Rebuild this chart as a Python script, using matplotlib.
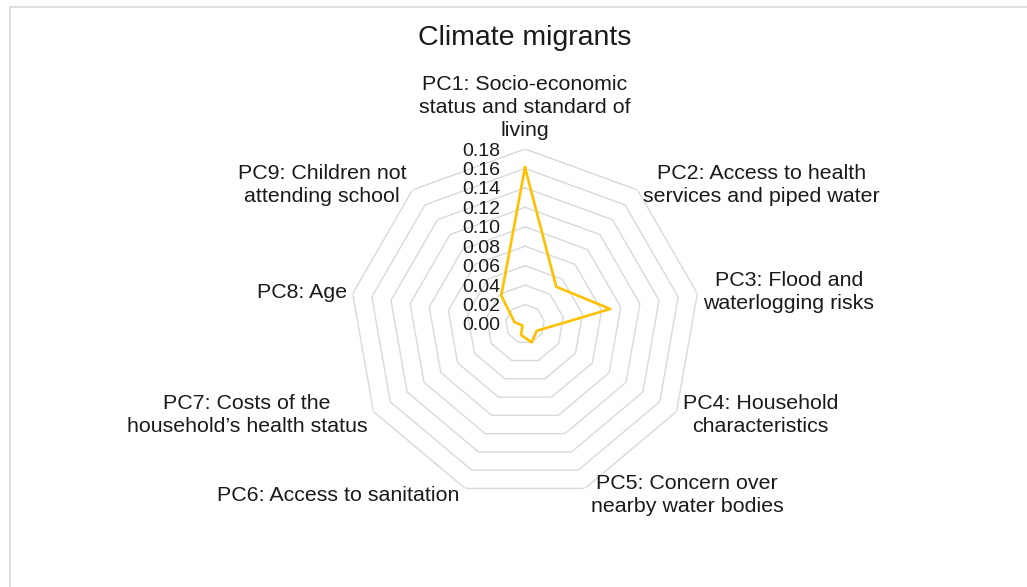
import numpy as np
import matplotlib.pyplot as plt
from matplotlib.patches import Rectangle

plt.rcParams['font.family'] = ['Liberation Sans', 'DejaVu Sans']

titulo = 'Climate migrants'
rotulos = ['PC1: Socio-economic\nstatus and standard of\nliving',
           'PC2: Access to health\nservices and piped water',
           'PC3: Flood and\nwaterlogging risks',
           'PC4: Household\ncharacteristics',
           'PC5: Concern over\nnearby water bodies',
           'PC6: Access to sanitation',
           'PC7: Costs of the\nhousehold\u2019s health status',
           'PC8: Age',
           'PC9: Children not\nattending school']
valores = [0.161, 0.050, 0.089, 0.014, 0.020, 0.012, 0.003, 0.011, 0.038]
ticks = [0.00, 0.02, 0.04, 0.06, 0.08, 0.10, 0.12, 0.14, 0.16, 0.18]

cor_linha, cor_grade, cor_texto = '#FFC000', '#D9D9D9', '#1a1a1a'

W, H, dpi = 1027, 587, 100
cx, cy, R = 525, 324, 175   # centro e raio do radar em pixels

fig = plt.figure(figsize=(W/dpi, H/dpi), dpi=dpi)
fig.patches.append(Rectangle((10/W, -0.1), 1.2, 1 - 7/H + 0.1, transform=fig.transFigure,
                             fill=False, edgecolor=cor_grade, lw=1.2))

ax = fig.add_axes([(cx-R)/W, (H-cy-R)/H, 2*R/W, 2*R/H], projection='polar')
ax.set_theta_zero_location('N')
ax.set_theta_direction(-1)
ax.set_ylim(0, ticks[-1])
ax.grid(False)
ax.spines['polar'].set_visible(False)
ax.set_xticks([]); ax.set_yticks([])
ax.patch.set_alpha(0)

n = len(rotulos)
ang = np.arange(n) * 2*np.pi/n
ang_f = np.append(ang, ang[0])

# aneis poligonais
for t in ticks[1:]:
    ax.plot(ang_f, [t]*(n+1), color=cor_grade, lw=1.0, zorder=1)

ax.plot(ang_f, valores + valores[:1], color=cor_linha, lw=1.9, zorder=3)

for t in ticks:
    ax.annotate(f'{t:.2f}', xy=(0, t), xytext=(-25, -2), textcoords='offset pixels',
                ha='right', va='center', fontsize=14, color=cor_texto, annotation_clip=False)

for a, rot in zip(ang, rotulos):
    s, c = np.sin(a), np.cos(a)
    if abs(s) < 1e-6:
        ha, va, off = 'center', 'bottom', (0, 9)
    else:
        ha = 'left' if s > 0 else 'right'
        va, off = 'center', (6*np.sign(s), 7*c)
    ax.annotate(rot, xy=(a, ticks[-1]), xytext=off, textcoords='offset pixels',
                ha=ha, va=va, multialignment='center', fontsize=15.4, linespacing=1.26,
                color=cor_texto, annotation_clip=False)

fig.text(cx/W, 1 - 38/H, titulo, ha='center', va='center', fontsize=20.5, color=cor_texto)

fig.savefig('out.png', dpi=dpi)
